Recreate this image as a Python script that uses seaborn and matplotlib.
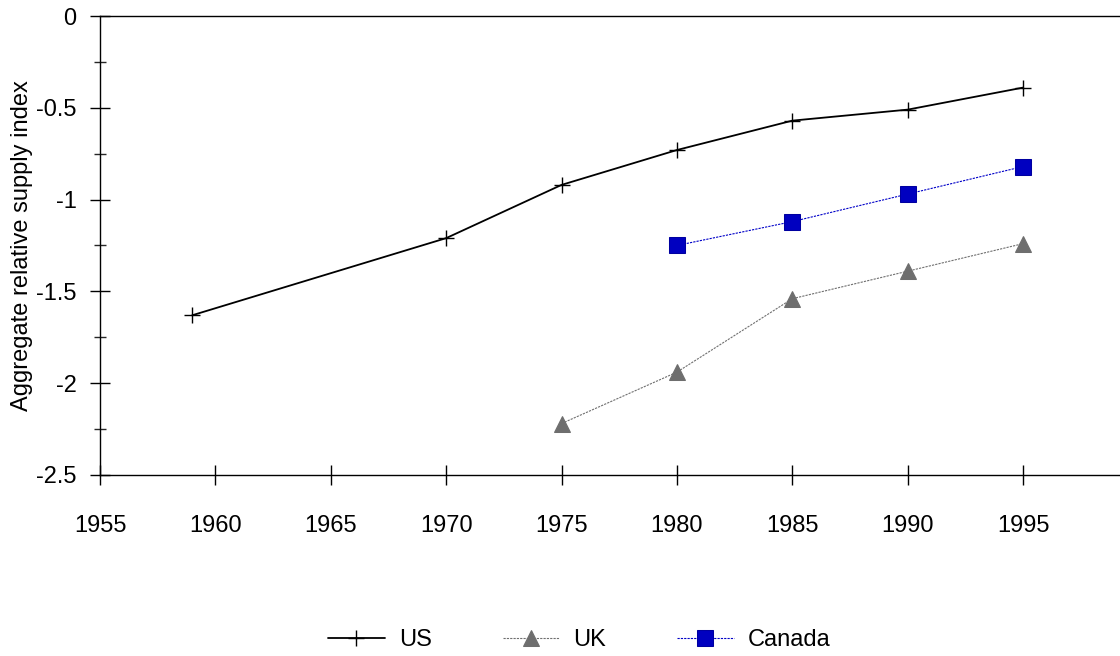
import matplotlib
matplotlib.use("Agg")
import matplotlib.pyplot as plt
import seaborn as sns
from matplotlib.ticker import MultipleLocator, FuncFormatter

sns.set_style("ticks")
plt.rcParams['font.family'] = ['Liberation Sans', 'DejaVu Sans']

us_years = [1959, 1970, 1975, 1980, 1985, 1990, 1995]
us_vals = [-1.63, -1.21, -0.92, -0.73, -0.57, -0.51, -0.39]
uk_years = [1975, 1980, 1985, 1990, 1995]
uk_vals = [-2.22, -1.94, -1.54, -1.39, -1.24]
ca_years = [1980, 1985, 1990, 1995]
ca_vals = [-1.25, -1.12, -0.97, -0.82]

fig = plt.figure(figsize=(11.2, 6.56), dpi=100)
ax = fig.add_axes([0.0893, 0.276, 0.9107, 0.6996])

sns.lineplot(x=us_years, y=us_vals, ax=ax, color='black', lw=1.3, marker='+',
             markersize=11, markeredgewidth=1, markeredgecolor='black', label='US')
sns.lineplot(x=uk_years, y=uk_vals, ax=ax, color='#707070', lw=0.8, ls=(0, (2, 1)),
             marker='^', markersize=11, markerfacecolor='#6e6e6e', markeredgecolor='#6e6e6e', label='UK')
sns.lineplot(x=ca_years, y=ca_vals, ax=ax, color='#0000c8', lw=0.8, ls=(0, (2, 1)),
             marker='s', markersize=11, markerfacecolor='#0000c0', markeredgecolor='#0000a0', label='Canada')

ax.set_xlim(1955, 1999.2)
ax.set_ylim(-2.5, 0)
ax.xaxis.set_major_locator(MultipleLocator(5))
ax.yaxis.set_major_locator(MultipleLocator(0.5))
ax.yaxis.set_minor_locator(MultipleLocator(0.25))
ax.yaxis.set_major_formatter(FuncFormatter(lambda v, p: f'{v:g}'))
ax.tick_params(axis='both', which='major', direction='inout', length=14, width=1,
               labelsize=17, colors='black', pad=10, top=False, right=False)
ax.tick_params(axis='x', which='major', pad=22)
ax.tick_params(axis='y', which='minor', direction='inout', length=8, width=1, right=False)
ax.set_ylabel('Aggregate relative supply index', fontsize=17, color='black', labelpad=2)
ax.set_xlabel('')
for s in ['left', 'top', 'bottom']:
    ax.spines[s].set_color('black')
    ax.spines[s].set_linewidth(1)
    ax.spines[s].set_visible(True)
ax.spines['right'].set_visible(False)

leg = ax.legend(loc='center', bbox_to_anchor=(0.47, -0.36), ncol=3, frameon=False, fontsize=17,
                handlelength=2.4, handletextpad=0.6, columnspacing=3.0)
for t in leg.get_texts():
    t.set_color('black')
fig.savefig('out.png', dpi=100)
